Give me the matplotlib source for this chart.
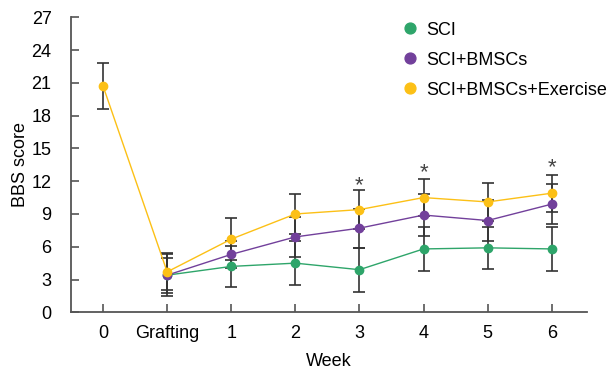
import numpy as np
import matplotlib.pyplot as plt

plt.rcParams['font.family'] = ['Liberation Sans', 'DejaVu Sans']

# Data
weeks = ['0', 'Grafting', '1', '2', '3', '4', '5', '6']

sci_mean = [np.nan, 3.4, 4.2, 4.5, 3.9, 5.8, 5.9, 5.8]
sci_sd = [np.nan, 1.9, 1.9, 2.0, 2.0, 2.0, 1.9, 2.0]

bmsc_mean = [np.nan, 3.4, 5.3, 6.9, 7.7, 8.9, 8.4, 9.9]
bmsc_sd = [np.nan, 1.6, 1.2, 1.8, 1.8, 1.9, 1.9, 1.8]

ex_mean = [20.7, 3.7, 6.7, 9.0, 9.4, 10.5, 10.1, 10.9]
ex_sd = [2.1, 1.7, 1.9, 1.8, 1.8, 1.7, 1.7, 1.7]

star_weeks = ['3', '4', '6']
star_y = [12.0, 13.2, 13.6]

colors = {'SCI': '#2ea56a', 'SCI+BMSCs': '#72409b', 'SCI+BMSCs+Exercise': '#fcc016'}


def main():
    fig = plt.figure(figsize=(6.07, 3.73), dpi=100)
    ax = fig.add_axes([0.117, 0.1627, 0.85, 0.791])

    x = np.arange(len(weeks))
    series = [('SCI', sci_mean, sci_sd),
              ('SCI+BMSCs', bmsc_mean, bmsc_sd),
              ('SCI+BMSCs+Exercise', ex_mean, ex_sd)]

    for i, (name, mean, sd) in enumerate(series):
        mean = np.array(mean, dtype=float)
        sd = np.array(sd, dtype=float)
        ax.errorbar(x, mean, yerr=sd, fmt='none', ecolor='#333333',
                    elinewidth=1.2, capsize=4.5, capthick=1.2, zorder=2 + i)
        ax.plot(x, mean, '-', color=colors[name], lw=1.0, zorder=5 + i)
        ax.plot(x, mean, 'o', color=colors[name], ms=6, zorder=8 + i,
                label=name, linestyle='none')

    # significance marks
    for w, yv in zip(star_weeks, star_y):
        ax.text(weeks.index(w), yv - 0.4, '*', ha='center', va='center',
                fontsize=16, color='#444444')

    ax.set_xlim(-0.5, 7.55)
    ax.set_ylim(0, 27)
    ax.set_yticks(np.arange(0, 28, 3))
    ax.set_xticks(x)
    ax.set_xticklabels(weeks)

    for s in ['top', 'right']:
        ax.spines[s].set_visible(False)
    for s in ['left', 'bottom']:
        ax.spines[s].set_color('#555555')
        ax.spines[s].set_linewidth(1.3)

    ax.tick_params(axis='y', direction='in', length=6, width=1.2,
                   color='#555555', labelsize=13, pad=14)
    ax.tick_params(axis='x', direction='in', length=6, width=1.2,
                   color='#555555', labelsize=13, pad=9)

    ax.set_xlabel('Week', fontsize=13, labelpad=8)
    ax.set_ylabel('BBS score', fontsize=13, labelpad=2)

    ax.legend(loc='upper right', bbox_to_anchor=(1.07, 1.04), frameon=False,
              fontsize=13, handletextpad=0.3, labelspacing=0.72,
              handlelength=1.2, markerscale=1.3)

    fig.savefig('out.png', dpi=100)


if __name__ == '__main__':
    main()
